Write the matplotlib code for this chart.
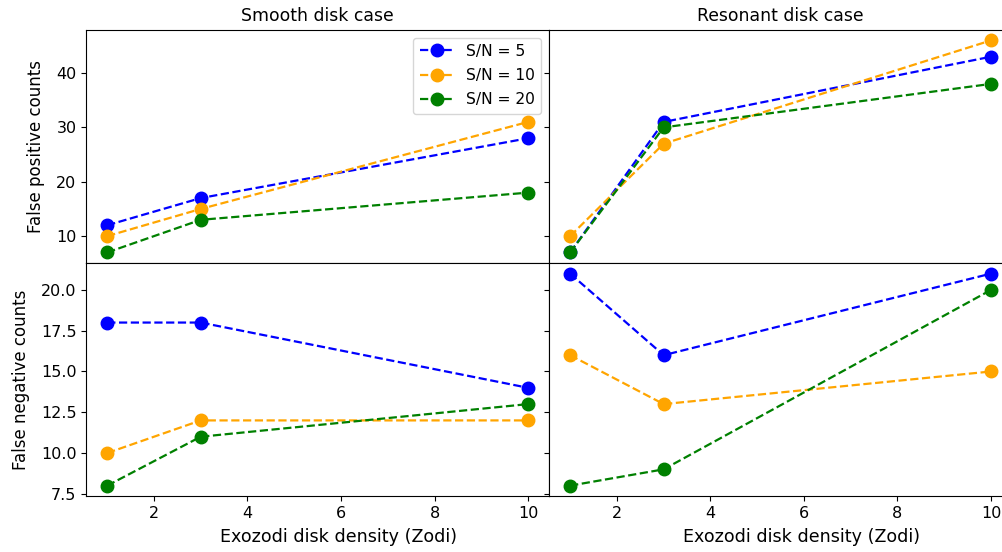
import numpy as np
import matplotlib.pyplot as plt

zodi = [1, 3, 10]
snr_labels = ['S/N = 5', 'S/N = 10', 'S/N = 20']
colors = ['blue', 'orange', 'green']

# false positives
fp_smooth = [[12, 17, 28], [10, 15, 31], [7, 13, 18]]
fp_resonant = [[7, 31, 43], [10, 27, 46], [7, 30, 38]]

# false negatives
fn_smooth = [[18, 18, 14], [10, 12, 12], [8, 11, 13]]
fn_resonant = [[21, 16, 21], [16, 13, 15], [8, 9, 20]]

fig, axes = plt.subplots(2, 2, figsize=(10.02, 5.52), sharex=True, sharey='row')
fig.subplots_adjust(left=0.086, right=1.01, top=0.946, bottom=0.101,
                    wspace=0, hspace=0)

panels = [[fp_smooth, fp_resonant], [fn_smooth, fn_resonant]]
for r in range(2):
    for c in range(2):
        ax = axes[r, c]
        for vals, col, lab in zip(panels[r][c], colors, snr_labels):
            ax.plot(zodi, vals, '--o', color=col, ms=9, lw=1.6, label=lab)
        ax.tick_params(labelsize=11.5)

axes[0, 0].set_title('Smooth disk case', fontsize=12.4)
axes[0, 1].set_title('Resonant disk case', fontsize=12.4)
axes[0, 0].set_ylabel('False positive counts', fontsize=12, labelpad=8)
axes[1, 0].set_ylabel('False negative counts', fontsize=12, labelpad=8)
for ax in axes[1]:
    ax.set_xlabel('Exozodi disk density (Zodi)', fontsize=12.6)
    ax.xaxis.set_label_coords(0.546, -0.135)
axes[0, 0].legend(loc='upper right', fontsize=11.2, handlelength=2.2,
                  labelspacing=0.6)

plt.savefig('out.png', dpi=100)
